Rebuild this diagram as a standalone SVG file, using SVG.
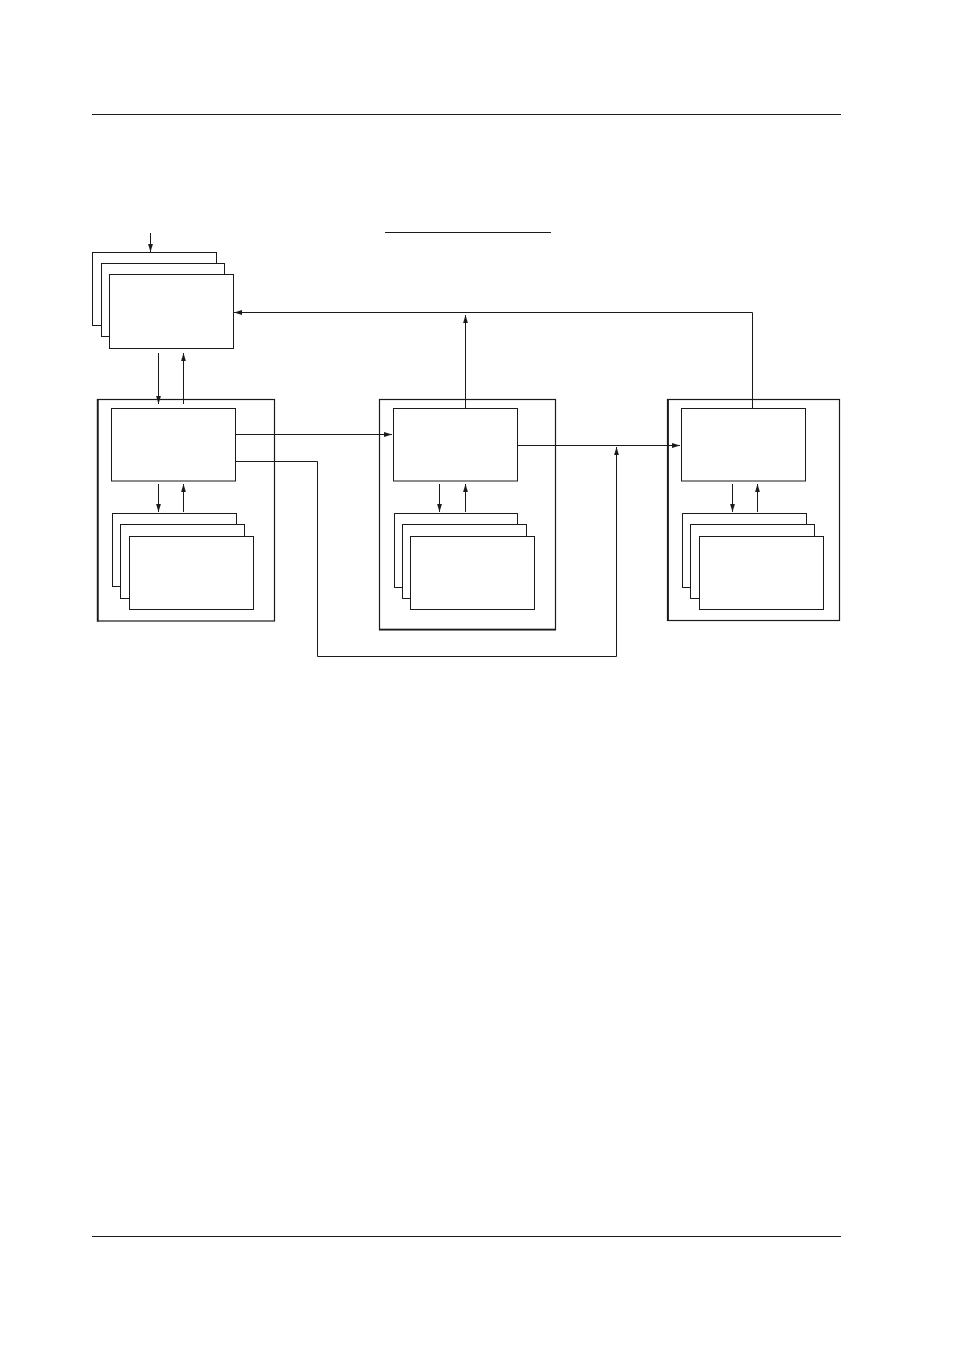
<svg xmlns="http://www.w3.org/2000/svg" width="954" height="1350" viewBox="0 0 954 1350">
<style>
.r{fill:#fff;stroke:#1a1a1a;stroke-width:1}
.o{fill:none;stroke:#1a1a1a;stroke-width:1.2}
.t{stroke:#1a1a1a;stroke-width:1.8}
.c{fill:none;stroke:#1a1a1a;stroke-width:1}
.rule{stroke:#1a1a1a;stroke-width:1}
</style>
<defs>
<marker id="a" viewBox="0 0 8 6" refX="8" refY="3" markerWidth="8" markerHeight="6" markerUnits="userSpaceOnUse" orient="auto">
<path d="M0,0.6 L8,3 L0,5.4 Z" fill="#1a1a1a"/>
</marker>
</defs>
<rect width="954" height="1350" fill="#fff"/>
<line class="rule" x1="92" y1="114.5" x2="841" y2="114.5"/>
<line class="rule" x1="92" y1="1236.5" x2="841" y2="1236.5"/>
<line class="rule" x1="385" y1="232.5" x2="551" y2="232.5"/>

<g id="top-stack">
<rect class="r" x="92.5" y="252.5" width="124" height="73"/>
<rect class="r" x="101.5" y="263.5" width="123" height="73"/>
<rect class="r" x="109.5" y="274.5" width="124" height="74"/>
</g>

<g id="left-unit">
<rect class="o" x="97.5" y="399.5" width="177" height="221.5"/>
<line class="t" x1="97.8" y1="399" x2="97.8" y2="621.5"/>
<rect class="r" x="111.5" y="408.5" width="124" height="72.5"/>
<rect class="r" x="112.5" y="513.5" width="124" height="73"/>
<rect class="r" x="120.5" y="524.5" width="124" height="74"/>
<rect class="r" x="129.5" y="536.5" width="124" height="73"/>
</g>

<g id="middle-unit">
<rect class="o" x="379.5" y="399.5" width="176" height="230"/>
<line class="t" x1="379" y1="629.6" x2="556" y2="629.6"/>
<rect class="r" x="393.5" y="408.5" width="124" height="72.5"/>
<rect class="r" x="394.5" y="513.5" width="123" height="74"/>
<rect class="r" x="402.5" y="524.5" width="124" height="74"/>
<rect class="r" x="410.5" y="536.5" width="124" height="73"/>
</g>

<g id="right-unit">
<rect class="o" x="667.5" y="399.5" width="172" height="221"/>
<line class="t" x1="668" y1="399" x2="668" y2="621"/>
<rect class="r" x="681.5" y="408.5" width="124" height="72.5"/>
<rect class="r" x="682.5" y="513.5" width="124" height="74"/>
<rect class="r" x="690.5" y="524.5" width="124" height="74"/>
<rect class="r" x="699.5" y="536.5" width="124" height="73"/>
</g>

<g id="connectors">
<line class="c" x1="150.5" y1="233" x2="150.5" y2="252" marker-end="url(#a)"/>
<line class="c" x1="158.5" y1="353" x2="158.5" y2="404" marker-end="url(#a)"/>
<line class="c" x1="183.5" y1="404" x2="183.5" y2="353" marker-end="url(#a)"/>
<line class="c" x1="158.5" y1="484" x2="158.5" y2="512" marker-end="url(#a)"/>
<line class="c" x1="183.5" y1="512" x2="183.5" y2="484" marker-end="url(#a)"/>
<line class="c" x1="439.5" y1="484" x2="439.5" y2="512" marker-end="url(#a)"/>
<line class="c" x1="465.5" y1="512" x2="465.5" y2="484" marker-end="url(#a)"/>
<line class="c" x1="732.5" y1="484" x2="732.5" y2="512" marker-end="url(#a)"/>
<line class="c" x1="757.5" y1="512" x2="757.5" y2="484" marker-end="url(#a)"/>
<line class="c" x1="235.5" y1="434.5" x2="392" y2="434.5" marker-end="url(#a)"/>
<polyline class="c" points="235.5,461.5 317.5,461.5 317.5,656.5 616.5,656.5 616.5,447"/>
<line class="c" x1="616.5" y1="460" x2="616.5" y2="447" marker-end="url(#a)"/>
<line class="c" x1="517.5" y1="445.5" x2="680" y2="445.5" marker-end="url(#a)"/>
<line class="c" x1="465.5" y1="408" x2="465.5" y2="315" marker-end="url(#a)"/>
<polyline class="c" points="752.5,408 752.5,312.5 234,312.5"/>
<line class="c" x1="250" y1="312.5" x2="234" y2="312.5" marker-end="url(#a)"/>
</g>
</svg>
